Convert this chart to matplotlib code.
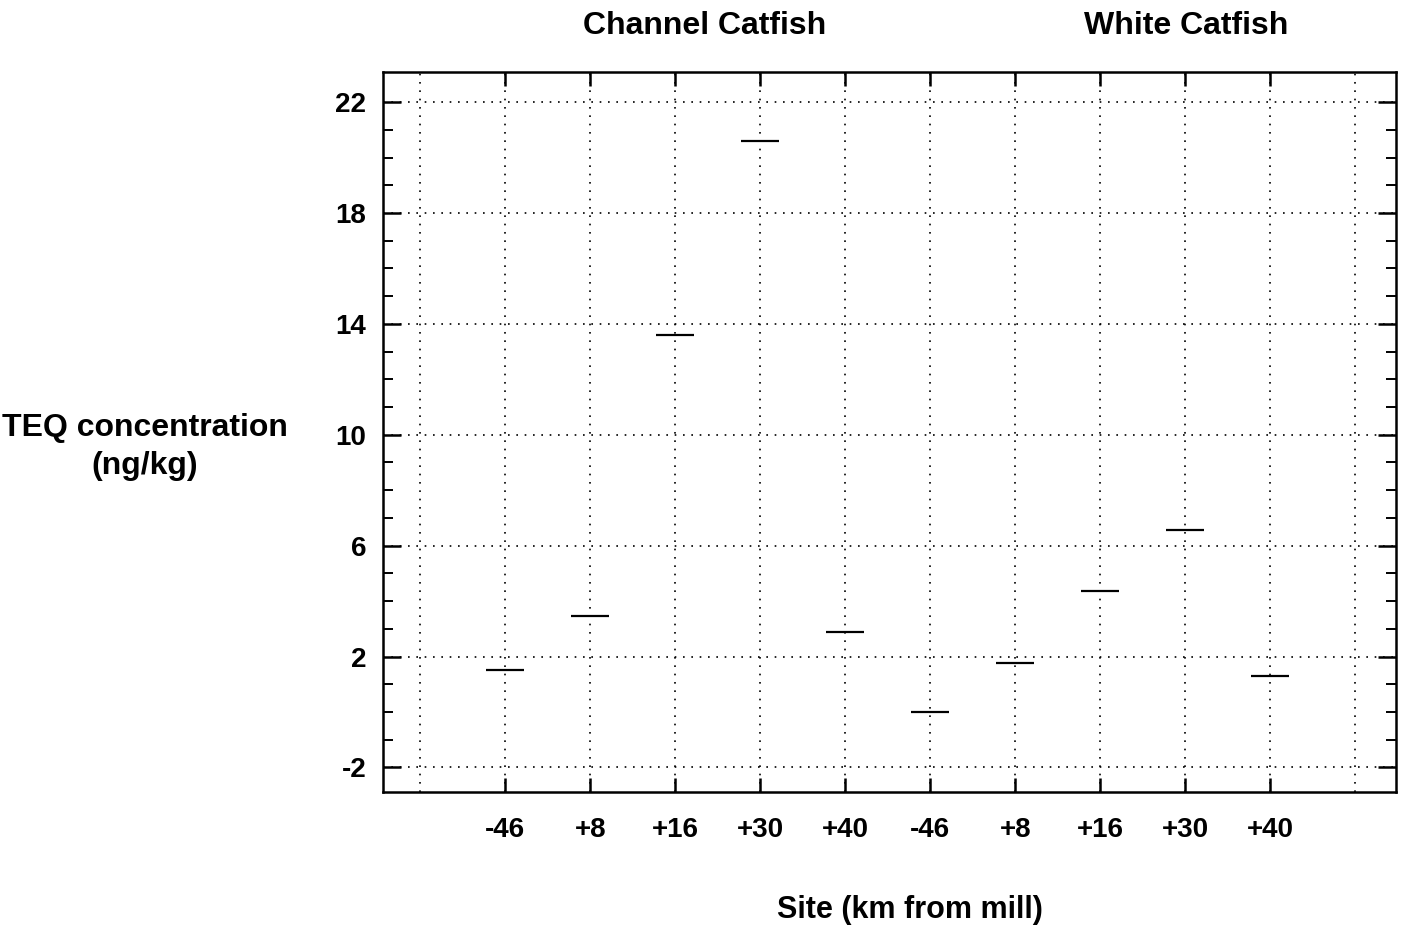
import numpy as np
import matplotlib.pyplot as plt

plt.rcParams['font.family'] = ['Liberation Sans', 'DejaVu Sans']
plt.rcParams['font.weight'] = 'bold'
plt.rcParams['axes.unicode_minus'] = False

# sites, channel catfish first then white catfish
sites = ['-46', '+8', '+16', '+30', '+40', '-46', '+8', '+16', '+30', '+40']
teq = [1.5, 3.45, 13.6, 20.6, 2.9, 0.0, 1.75, 4.35, 6.55, 1.3]
yticks = [-2, 2, 6, 10, 14, 18, 22]

fig = plt.figure(figsize=(14.03, 9.30), dpi=100)
ax = fig.add_axes([0.273, 0.148, 0.722, 0.775])

pos = np.arange(1, len(sites) + 1)
ax.plot(pos, teq, linestyle='none', marker='_', ms=27, mew=1.6, color='black')

ax.set_xlim(-0.44, 11.48)
ax.set_ylim(-2.9, 23.1)
ax.set_xticks(pos)
ax.set_xticklabels(sites)
ax.set_yticks(yticks)
ax.set_yticks(np.arange(-2, 23, 1), minor=True)

ax.tick_params(axis='both', which='major', direction='in', labelsize=20,
               top=True, right=True, width=1.8, length=13)
ax.tick_params(axis='y', which='major', pad=12)
ax.tick_params(axis='y', which='minor', direction='in', right=True,
               width=1.4, length=7)
ax.tick_params(axis='x', which='major', length=10, pad=18)

ax.grid(True, which='major', linestyle=(0, (1, 4)), color='black', linewidth=1.2)
for xv in (0, 11):
    ax.axvline(xv, linestyle=(0, (1, 4)), color='black', linewidth=1.2)

for s in ax.spines.values():
    s.set_linewidth(1.8)

fig.text(705 / 1403, 1 - 26 / 930, 'Channel Catfish', ha='center', va='center', fontsize=23)
fig.text(1186 / 1403, 1 - 26 / 930, 'White Catfish', ha='center', va='center', fontsize=23)
fig.text(145 / 1403, 1 - 447 / 930, 'TEQ concentration\n(ng/kg)', ha='center', va='center',
         fontsize=23, linespacing=1.35)
fig.text(910 / 1403, 1 - 910 / 930, 'Site (km from mill)', ha='center', va='center', fontsize=22)

fig.savefig('out.png', dpi=100)
